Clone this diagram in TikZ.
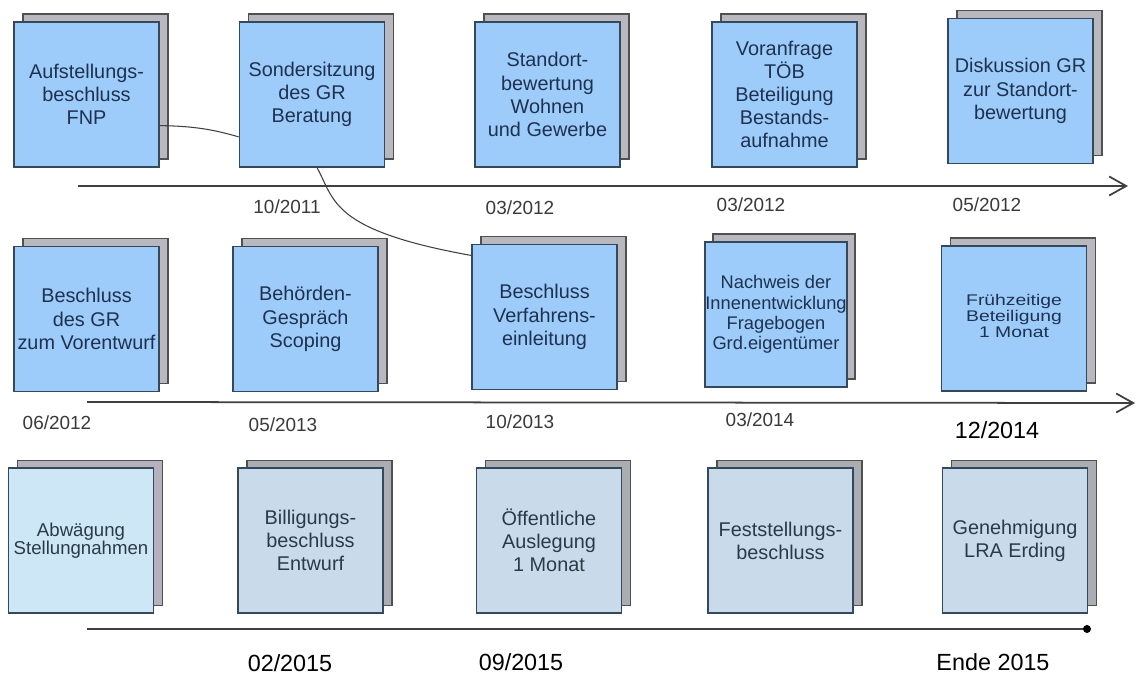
\documentclass[tikz,border=0pt]{standalone}
\usepackage{fontspec}
\setmainfont{Liberation Sans}
\newfontfamily\widefont[FakeStretch=1.25]{Liberation Sans}
\usetikzlibrary{arrows.meta}
\definecolor{fblue}{HTML}{9DCBFA}
\definecolor{fedge}{HTML}{34495C}
\definecolor{bgray}{HTML}{B8B8BE}
\definecolor{bedge}{HTML}{505050}
\definecolor{fcyan}{HTML}{CDE7F7}
\definecolor{fpale}{HTML}{C9DBEA}
\definecolor{blav}{HTML}{B7B0BF}
\definecolor{bgray2}{HTML}{AAAEB3}
\definecolor{navytext}{HTML}{1E3250}
\definecolor{greytext}{HTML}{2C3A48}
\definecolor{axis}{HTML}{404040}
\definecolor{datetext}{HTML}{3A3A3A}
\begin{document}
\begin{tikzpicture}[x=0.02cm,y=-0.02cm,
  box/.style={minimum width=2.9cm, minimum height=2.9cm, inner sep=0pt, align=center, line width=1pt},
  fronta/.style={box, draw=fedge, fill=fblue, text=navytext, font=\fontsize{11.3}{13.2}\selectfont},
  backa/.style={box, draw=bedge, fill=bgray},
  frontc/.style={box, draw=fedge, fill=fcyan, text=greytext, font=\fontsize{11.3}{13.2}\selectfont},
  backc/.style={box, draw=bedge, fill=blav},
  frontd/.style={box, draw=fedge, fill=fpale, text=greytext, font=\fontsize{11.3}{13.2}\selectfont},
  backd/.style={box, draw=bedge, fill=bgray2},
  axisline/.style={draw=axis, line width=1pt},
  link/.style={draw=axis, line width=0.6pt},
  datesm/.style={text=datetext, font=\fontsize{10.8}{12}\selectfont, inner sep=0pt},
  datebig/.style={text=black, font=\fontsize{13.3}{15}\selectfont, inner sep=0pt}
]
\useasboundingbox (0,0) rectangle (1137,676);

% ---------- row 1 ----------
\node[backa] (a1s) at (95.5,86.5) {};
\node[fronta] (a1) at (86.5,94.5) {Aufstellungs-\\beschluss\\FNP};
\node[backa] (a2s) at (321,86.5) {};
\node[fronta] (a2) at (312,94.5) {Sondersitzung\\des GR\\Beratung};
\node[backa] (a3s) at (556.5,86.5) {};
\node[fronta] (a3) at (547.5,94.5) {Standort-\\bewertung\\Wohnen\\und Gewerbe};
\node[backa] (a4s) at (793.5,86.5) {};
\node[fronta] (a4) at (784.5,94.5) {Voranfrage\\TÖB\\Beteiligung\\Bestands-\\aufnahme};
\node[backa] (a5s) at (1029.5,83) {};
\node[fronta] (a5) at (1020.5,91) {Diskussion GR\\zur Standort-\\bewertung};

\coordinate (r1s) at (78,186);
\coordinate (r1e) at (1128,186);
\draw[axisline, -{Straight Barb[length=0.34cm,width=0.38cm,line width=1pt]}] (r1s) -- (r1e);

\node[datesm] (d1) at (287,207) {10/2011};
\node[datesm] (d2) at (520,208) {03/2012};
\node[datesm] (d3) at (751,205) {03/2012};
\node[datesm] (d4) at (987,205) {05/2012};

% ---------- row 2 ----------
\node[backa] (b1s) at (95.5,311) {};
\node[fronta] (b1) at (86.5,319) {Beschluss\\des GR\\zum Vorentwurf};
\node[backa] (b2s) at (314.5,311) {};
\node[fronta] (b2) at (305.5,319) {Behörden-\\Gespräch\\Scoping};
\node[backa] (b3s) at (553.5,309) {};
\node[fronta] (b3) at (544.5,317) {Beschluss\\Verfahrens-\\einleitung};
\node[backa, minimum width=2.84cm] (b4s) at (784,306.5) {};
\node[fronta, minimum width=2.84cm, font=\fontsize{10.4}{11.6}\selectfont] (b4) at (776,314.5) {Nachweis der\\Innenentwicklung\\Fragebogen\\Grd.eigentümer};
\node[backa] (b5s) at (1023,310.5) {};
\node[fronta, font=\widefont\fontsize{8.8}{8.9}\selectfont] (b5) at (1014,318.5) {\raisebox{5.5pt}{\begin{tabular}{@{}c@{}}Frühzeitige\\Beteiligung\\1 Monat\end{tabular}}};

\coordinate (r2s) at (87,402);
\coordinate (r2e) at (1135,403);
\draw[axisline, -{Straight Barb[length=0.34cm,width=0.38cm,line width=1pt]}] (r2s) -- (r2e);

\node[datesm] (e1) at (57,423) {06/2012};
\node[datesm] (e2) at (283,425) {05/2013};
\node[datesm] (e3) at (520,422) {10/2013};
\node[datesm] (e4) at (760,420) {03/2014};
\node[datebig] (e5) at (997,430) {12/2014};

% ---------- row 3 ----------
\node[backc] (c1s) at (90,533) {};
\node[frontc, font=\fontsize{10.6}{10.6}\selectfont] (c1) at (81,540.5) {Abwägung\\Stellungnahmen};
\node[backd] (c2s) at (319.5,533) {};
\node[frontd] (c2) at (310.5,540.5) {Billigungs-\\beschluss\\Entwurf};
\node[backd] (c3s) at (558,533) {};
\node[frontd] (c3) at (549,540.5) {Öffentliche\\Auslegung\\1 Monat};
\node[backd] (c4s) at (789.5,533) {};
\node[frontd] (c4) at (780.5,540.5) {Feststellungs-\\beschluss};
\node[backd] (c5s) at (1024,533) {};
\node[frontd] (c5) at (1015,540.5) {Genehmigung\\LRA Erding};

\coordinate (r3s) at (87,629);
\coordinate (r3e) at (1087,629);
\draw[axisline] (r3s) -- (r3e);
\fill[black] (r3e) circle[radius=0.08cm];

\node[datebig] (f1) at (290,663) {02/2015};
\node[datebig] (f2) at (521,662) {09/2015};
\node[datebig] (f3) at (993,662) {Ende 2015};

% ---------- connectors ----------
\draw[link] (a1.-23) .. controls (195,126) and (215,130) .. (a2.210);
\draw[link] (a2.-86) .. controls (335,200) and (330,230) .. (b3.140);
\end{tikzpicture}
\end{document}
